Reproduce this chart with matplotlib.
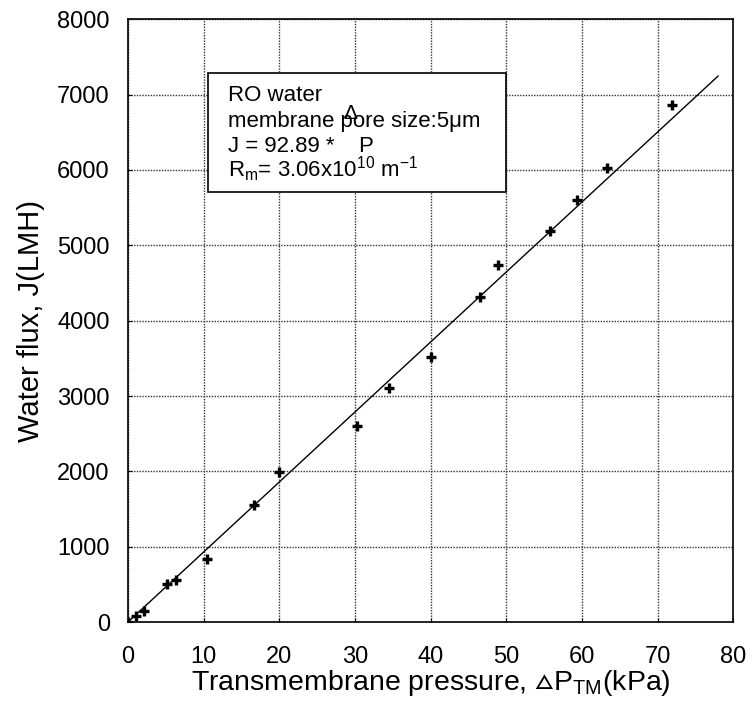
import matplotlib
matplotlib.use('Agg')
import matplotlib.pyplot as plt
from matplotlib.patches import Rectangle

plt.rcParams['font.family'] = ['Liberation Sans', 'DejaVu Sans']
plt.rcParams['mathtext.fontset'] = 'custom'
plt.rcParams['mathtext.rm'] = 'Liberation Sans'
plt.rcParams['mathtext.it'] = 'Liberation Sans'
plt.rcParams['mathtext.fallback'] = 'stixsans'

# measured data: transmembrane pressure (kPa) vs water flux (LMH)
pressure = [0, 1.1, 2.1, 5.2, 6.4, 10.4, 16.7, 20.0, 30.3, 34.5, 40.1,
            46.5, 48.9, 55.8, 59.4, 63.3, 71.9]
flux = [0, 80, 146, 503, 560, 842, 1550, 1987, 2608, 3100, 3514,
        4309, 4742, 5190, 5604, 6027, 6867]

# linear fit J = 92.89 * dP
slope = 92.89
fit_x = [0, 78]

x_ticks = [0, 10, 20, 30, 40, 50, 60, 70, 80]
y_ticks = [0, 1000, 2000, 3000, 4000, 5000, 6000, 7000, 8000]

box_lines = ['RO water',
             'membrane pore size:5\u03bcm',
             'J = 92.89 *    P',
             'R$_{\\mathrm{m}}$= 3.06x10$^{10}$ m$^{-1}$']

fig = plt.figure(figsize=(7.52, 7.11), dpi=100)
ax = fig.add_axes([0.170, 0.125, 0.805, 0.848])

ax.plot(fit_x, [slope * v for v in fit_x], color='black', linewidth=1)
ax.plot(pressure, flux, linestyle='none', marker='+', color='black',
        markersize=7, markeredgewidth=2.4)

ax.set_xlim(0, 80)
ax.set_ylim(0, 8000)
ax.set_xticks(x_ticks)
ax.set_yticks(y_ticks)
ax.tick_params(labelsize=17, direction='in', length=3, color='black')
ax.tick_params(axis='x', pad=17)
ax.tick_params(axis='y', pad=13)
ax.grid(True, color='0.2', linestyle=(0, (1, 1)), linewidth=1)
for s in ax.spines.values():
    s.set_linewidth(1.2)

ax.set_xlabel('Transmembrane pressure, $\u25b5$P$_{\\mathrm{TM}}$(kPa)',
              fontsize=20.5, labelpad=0)
ax.set_ylabel('Water flux, J(LMH)', fontsize=21, labelpad=9)

# annotation box
ax.add_patch(Rectangle((0.132, 0.7136), 0.493, 0.1974, transform=ax.transAxes,
                       facecolor='white', edgecolor='black', linewidth=1.2,
                       zorder=3))
for line, yb in zip(box_lines, [0.8647, 0.8217, 0.7803, 0.7389]):
    ax.text(0.166, yb, line, transform=ax.transAxes, fontsize=16,
            va='baseline', ha='left', zorder=4)
# stray delta sitting over "pore", as in the original figure
ax.text(0.367, 0.843, '\u0394', transform=ax.transAxes, fontsize=15,
        va='center', ha='center', zorder=4)

fig.savefig('out.png', dpi=100)
